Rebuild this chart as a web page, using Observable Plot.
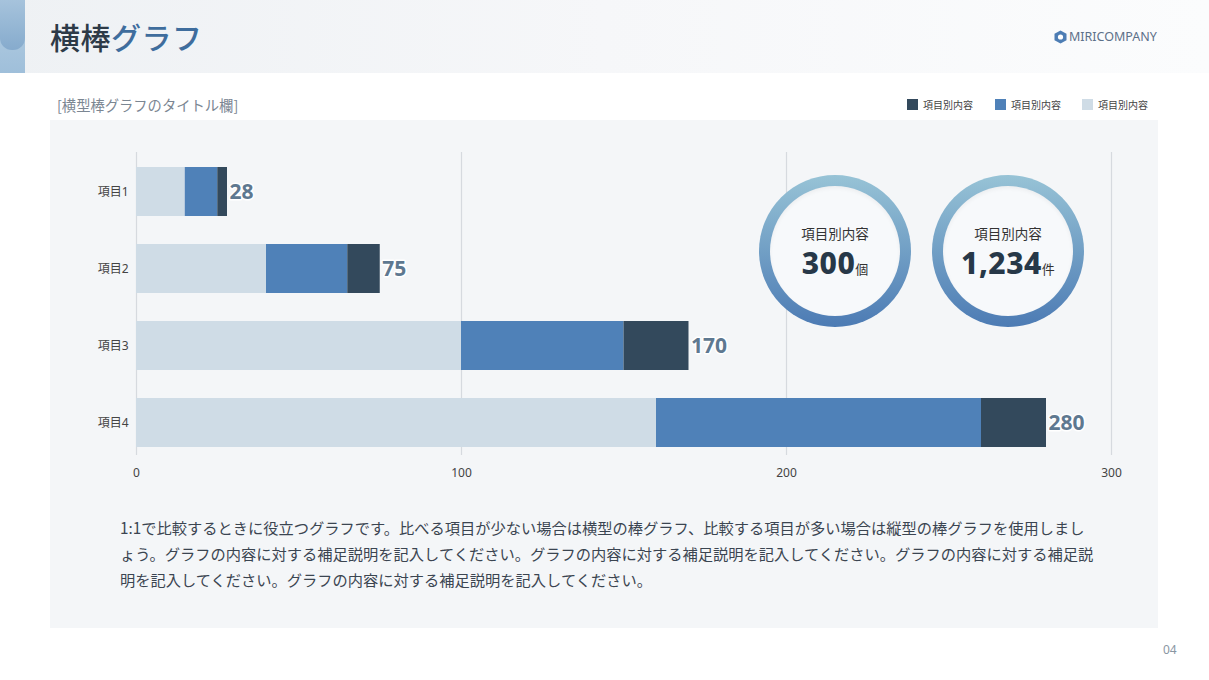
<!DOCTYPE html>
<html><head><meta charset="utf-8">
<script src="https://cdn.jsdelivr.net/npm/d3@7"></script>
<script src="https://cdn.jsdelivr.net/npm/@observablehq/plot@0.6"></script>
<style>
body{margin:0;width:1209px;height:680px;background:#fff;font-family:"Noto Sans","Noto Sans CJK JP",sans-serif;position:relative;overflow:hidden}
.abs{position:absolute}
#header{left:0;top:0;width:1209px;height:73px;background:linear-gradient(to right,#eef1f4 0%,#f6f7f9 50%,#fbfcfd 100%)}
#accent{left:0;top:0;width:25px;height:73px;background:linear-gradient(#b6cfe3,#9fbfda)}
#accent2{left:0;top:0;width:25px;height:50px;border-radius:0 0 12px 12px;background:linear-gradient(#a6c3dc,#86abcd)}
#title{left:50px;top:14px;font-size:30px;font-weight:500;color:#2d3a47;font-family:"Noto Sans CJK JP";letter-spacing:0.5px}
#title span{color:#3f6d9d}
#logo{left:1054px;top:28px;font-size:12.5px;color:#5d7089;display:flex;align-items:center;gap:2px;letter-spacing:0}
#sub{left:57px;top:94px;font-size:14.3px;color:#7b8692;font-family:"Noto Sans CJK JP"}
.leg{top:97px;font-size:10px;color:#444;display:flex;align-items:center;gap:5px;font-family:"Noto Sans CJK JP"}
.leg i{display:inline-block;width:11px;height:11px}
#panel{left:50px;top:120px;width:1108px;height:508px;background:#f4f6f8}
#chart{left:50px;top:120px}
.circ{width:152px;height:152px;border-radius:50%;background:linear-gradient(180deg,#97c3d6,#4c7bb4)}
.circ .in{position:absolute;left:11px;top:11px;width:130px;height:130px;border-radius:50%;background:#f7f9fb;box-shadow:inset 0 2px 4px rgba(0,0,0,0.05)}
.circ .l1{position:absolute;left:0;width:152px;top:48px;text-align:center;font-size:13.5px;color:#333;font-family:"Noto Sans CJK JP"}
.circ .l2{position:absolute;left:0;width:152px;top:67px;text-align:center;font-size:30px;font-weight:800;color:#273848;letter-spacing:0.5px}
.circ .l2 small{font-size:13px;font-weight:400;color:#333;font-family:"Noto Sans CJK JP";letter-spacing:0}
#body{left:120px;top:514px;font-size:15.25px;line-height:26px;color:#3b4551;font-family:"Noto Sans CJK JP";white-space:nowrap}
#page{left:1163px;top:641px;font-size:12px;color:#8a96a2}
</style></head>
<body>
<div id="header" class="abs"></div>
<div id="accent" class="abs"></div>
<div id="accent2" class="abs"></div>
<div id="title" class="abs">横棒<span>グラフ</span></div>
<div id="logo" class="abs"><svg width="13" height="14" viewBox="0 0 13 14"><polygon points="6.5,0.5 12.5,3.8 12.5,10.2 6.5,13.5 0.5,10.2 0.5,3.8" fill="#4d7db4"/><circle cx="6.5" cy="7" r="2.6" fill="#fff"/></svg><span>MIRICOMPANY</span></div>
<div id="sub" class="abs">[横型棒グラフのタイトル欄]</div>
<div id="legend"></div>
<div id="panel" class="abs"></div>
<div id="chart" class="abs"></div>
<div id="kpis"></div>
<div id="body" class="abs">1:1で比較するときに役立つグラフです。比べる項目が少ない場合は横型の棒グラフ、比較する項目が多い場合は縦型の棒グラフを使用しまし<br>ょう。グラフの内容に対する補足説明を記入してください。グラフの内容に対する補足説明を記入してください。グラフの内容に対する補足説<br>明を記入してください。グラフの内容に対する補足説明を記入してください。</div>
<div id="page" class="abs">04</div>
<script>
// ---- data ----
const categories = ["項目1", "項目2", "項目3", "項目4"];
const seriesKeys = ["light", "blue", "dark"];
const seriesNames = ["項目別内容", "項目別内容", "項目別内容"];
const seriesColors = ["#cfdce6", "#4f81b8", "#33495c"];
const valuesLight = [15, 40, 100, 160];
const valuesBlue = [10, 25, 50, 100];
const valuesDark = [3, 10, 20, 20];
const xTicks = [0, 100, 200, 300];
const kpiLabels = ["項目別内容", "項目別内容"];
const kpiValues = ["300", "1,234"];
const kpiUnits = ["個", "件"];

const seriesValues = [valuesLight, valuesBlue, valuesDark];
const rows = [];
categories.forEach((c, i) => seriesKeys.forEach((s, j) => rows.push({cat: c, series: s, value: seriesValues[j][i]})));
const totals = categories.map((c, i) => ({cat: c, total: d3.sum(seriesValues, v => v[i])}));

const chart = Plot.plot({
  width: 1108, height: 380,
  marginLeft: 86, marginRight: 47, marginTop: 32, marginBottom: 45,
  style: {background: "transparent", fontFamily: '"Noto Sans","Noto Sans CJK JP",sans-serif', fontSize: "12px", color: "#444"},
  x: {domain: [0, 300], ticks: xTicks, label: null, tickSize: 0, tickPadding: 13},
  y: {domain: categories, label: null, tickSize: 0, tickPadding: 8, paddingInner: 0.37, paddingOuter: 0.15, align: 0.62},
  color: {domain: seriesKeys, range: seriesColors},
  marks: [
    Plot.ruleX(xTicks, {stroke: "#d6dadf", strokeWidth: 1.2}),
    Plot.barX(rows, {x: "value", y: "cat", fill: "series", inset: 0}),
    Plot.text(totals, {x: "total", y: "cat", text: d => String(d.total), textAnchor: "start", dx: 2, fontSize: 21, fontWeight: 700, fill: "#5e7890", stroke: "#ffffff", strokeWidth: 3})
  ]
});
document.getElementById("chart").appendChild(chart);

// legend
const legX = [907, 995, 1082];
const legend = document.getElementById("legend");
[2, 1, 0].forEach((j, k) => {
  const d = document.createElement("div");
  d.className = "abs leg";
  d.style.left = legX[k] + "px";
  d.innerHTML = `<i style="background:${seriesColors[j]}"></i><span>${seriesNames[j]}</span>`;
  legend.appendChild(d);
});

// KPI circles
const kpiLeft = [759, 932];
const kp = document.getElementById("kpis");
kpiValues.forEach((v, i) => {
  const d = document.createElement("div");
  d.className = "abs circ";
  d.style.left = kpiLeft[i] + "px";
  d.style.top = "175px";
  d.innerHTML = `<div class="in"></div><div class="l1">${kpiLabels[i]}</div><div class="l2">${v}<small>${kpiUnits[i]}</small></div>`;
  kp.appendChild(d);
});
</script>
</body></html>
